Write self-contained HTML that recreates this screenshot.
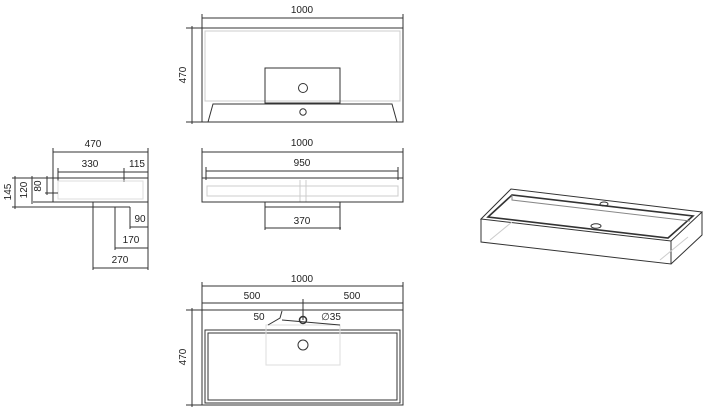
<!DOCTYPE html>
<html><head><style>
html,body{margin:0;padding:0;background:#fff;}
svg{display:block;}
text{font-family:"Liberation Sans",sans-serif;font-size:10px;fill:#222;text-anchor:middle;}
</style></head><body>
<svg width="709" height="416" viewBox="0 0 709 416" xmlns="http://www.w3.org/2000/svg">
<g stroke="#333" stroke-width="1" fill="none">
<!-- TOP VIEW -->
<line x1="202" y1="18" x2="403" y2="18"/>
<line x1="202" y1="14" x2="202" y2="28"/><line x1="403" y1="14" x2="403" y2="28"/>
<line x1="186" y1="28" x2="202" y2="28"/><line x1="186" y1="122" x2="202" y2="122"/>
<line x1="192" y1="26" x2="192" y2="124"/>
<rect x="202" y="28" width="201" height="94"/>
<rect x="205" y="31" width="195" height="70" stroke="#ccc"/>
<rect x="265" y="68" width="75" height="35"/>
<circle cx="303" cy="88" r="4.5"/>
<path d="M208 122 L213 104 L392 104 L397 122"/>
<circle cx="303" cy="112" r="3.2"/>
<!-- FRONT VIEW -->
<line x1="202" y1="152" x2="403" y2="152"/>
<line x1="202" y1="148" x2="202" y2="178"/><line x1="403" y1="148" x2="403" y2="178"/>
<line x1="206" y1="171" x2="398" y2="171"/>
<line x1="206" y1="167" x2="206" y2="180"/><line x1="398" y1="167" x2="398" y2="180"/>
<rect x="202" y="178" width="201" height="24"/>
<rect x="207" y="186" width="191" height="10" stroke="#ccc"/>
<line x1="300" y1="180" x2="300" y2="202" stroke="#ccc"/><line x1="306" y1="180" x2="306" y2="202" stroke="#ccc"/>
<rect x="265" y="202" width="75" height="5"/>
<line x1="265" y1="207" x2="265" y2="230"/><line x1="340" y1="207" x2="340" y2="230"/>
<line x1="265" y1="228" x2="341" y2="228"/>
<!-- SIDE VIEW -->
<line x1="53" y1="152" x2="148" y2="152"/>
<line x1="53" y1="148" x2="53" y2="202"/>
<line x1="148" y1="148" x2="148" y2="270"/>
<line x1="58" y1="172" x2="148" y2="172"/>
<line x1="58" y1="168" x2="58" y2="182"/><line x1="124" y1="168" x2="124" y2="182"/>
<line x1="53" y1="178" x2="148" y2="178"/>
<line x1="12" y1="178" x2="53" y2="178"/>
<rect x="58" y="181" width="85" height="18" stroke="#ddd"/>
<line x1="33" y1="202" x2="148" y2="202"/>
<line x1="12" y1="207" x2="130" y2="207"/>
<line x1="45" y1="193" x2="58" y2="193"/>
<line x1="15" y1="176" x2="15" y2="209"/>
<line x1="32" y1="176" x2="32" y2="204"/>
<line x1="47" y1="176" x2="47" y2="195"/>
<line x1="93" y1="202" x2="93" y2="270"/>
<line x1="115" y1="207" x2="115" y2="250"/>
<line x1="130" y1="207" x2="130" y2="229"/>
<line x1="130" y1="227" x2="148" y2="227"/>
<line x1="115" y1="248" x2="148" y2="248"/>
<line x1="93" y1="268" x2="148" y2="268"/>
<!-- BOTTOM VIEW -->
<line x1="202" y1="286" x2="403" y2="286"/>
<line x1="202" y1="282" x2="202" y2="310"/><line x1="403" y1="282" x2="403" y2="310"/>
<line x1="202" y1="303" x2="403" y2="303"/>
<line x1="303" y1="299" x2="303" y2="320"/>
<line x1="186" y1="310" x2="202" y2="310"/><line x1="186" y1="405" x2="202" y2="405"/>
<line x1="192" y1="308" x2="192" y2="407"/>
<rect x="202" y="310" width="201" height="95"/>
<rect x="205" y="330" width="195" height="73"/>
<rect x="208" y="333" width="189" height="67"/>
<rect x="266" y="325" width="74" height="40" stroke="#ddd"/>
<circle cx="303" cy="345" r="5"/>
<circle cx="303" cy="320" r="3.5" stroke-width="1.5"/>
<path d="M268 325 L280 318 L282 311"/>
<line x1="282" y1="320" x2="340" y2="325"/>
<!-- 3D -->
<path d="M481 219 L511 189 L702 212 L671 241 Z"/>
<path d="M481 219 L481 242 L671 264 L671 241 M671 264 L702 235 L702 212"/>
<path d="M488 217 L512 195 L693 216 L668 238 Z" stroke-width="1.6"/>
<path d="M512 195 L512 200 L690 221" stroke="#888"/>
<path d="M490 240 L512 222 M660 260 L688 237" stroke="#ccc"/>
<ellipse cx="604" cy="204" rx="4" ry="2"/>
<ellipse cx="596" cy="226" rx="5" ry="2.2"/>
</g>
<text x="302" y="13">1000</text>
<text transform="translate(186,75) rotate(-90)">470</text>
<text x="302" y="146">1000</text>
<text x="302" y="166">950</text>
<text x="302" y="224">370</text>
<text x="93" y="147">470</text>
<text x="90" y="167">330</text>
<text x="137" y="167">115</text>
<text x="140" y="222">90</text>
<text x="131" y="243">170</text>
<text x="120" y="263">270</text>
<text transform="translate(11,192) rotate(-90)">145</text>
<text transform="translate(27,190) rotate(-90)">120</text>
<text transform="translate(41,186) rotate(-90)">80</text>
<text x="302" y="282">1000</text>
<text x="252" y="299">500</text>
<text x="352" y="299">500</text>
<text x="259" y="320">50</text>
<text x="331" y="320">∅35</text>
<text transform="translate(186,357) rotate(-90)">470</text>
</svg>
</body></html>
